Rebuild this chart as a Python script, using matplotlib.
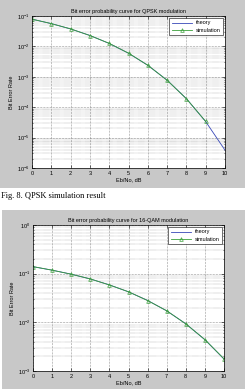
import matplotlib
matplotlib.use("Agg")
import matplotlib.pyplot as plt
from matplotlib.patches import Rectangle

# Eb/No axis, dB
ebno = [0, 1, 2, 3, 4, 5, 6, 7, 8, 9, 10]

# QPSK curves
qpsk_theory = [0.0786, 0.0563, 0.0375, 0.0229, 0.0125, 0.00595, 0.00239,
               0.000773, 0.000191, 3.36e-5, 3.87e-6]
qpsk_sim_x = [0, 1, 2, 3, 4, 5, 6, 7, 8, 9]
qpsk_sim = [0.0788, 0.0561, 0.0377, 0.0228, 0.0126, 0.00600, 0.00240,
            0.000770, 0.000190, 3.4e-5]

# 16-QAM curves
qam_theory = [0.139, 0.118, 0.0977, 0.0778, 0.0588, 0.0423, 0.0282,
              0.0172, 0.00934, 0.00439, 0.00176]
qam_sim = [0.140, 0.118, 0.0975, 0.0780, 0.0586, 0.0425, 0.0280,
           0.0173, 0.00930, 0.00442, 0.00178]

W, H = 249, 389
FONT = "Liberation Sans"
FS = 4.0
GRAY = "#c8c8c8"
THEORY_C = "#3848b8"
SIM_C = "#3aa03a"

fig = plt.figure(figsize=(W / 100, H / 100), dpi=100)
fig.patch.set_facecolor("white")


def px_rect(x0, y0, x1, y1):
    # pixel box (top-left origin) -> figure fraction [l, b, w, h]
    return [x0 / W, 1 - y1 / H, (x1 - x0) / W, (y1 - y0) / H]


# gray "figure window" panels, kept behind the axes
for box in [(0, 0, 245, 188), (2, 210, 245, 389)]:
    l, b, w, h = px_rect(*box)
    fig.patches.append(Rectangle((l, b), w, h, transform=fig.transFigure,
                                 facecolor=GRAY, edgecolor="none", zorder=-5))


def setup(ax, title, ylim):
    ax.set_zorder(2)
    ax.set_yscale("log")
    ax.set_xlim(0, 10)
    ax.set_ylim(*ylim)
    ax.set_xticks(range(11))
    ax.set_title(title, fontsize=FS, family=FONT, pad=2.5)
    ax.set_xlabel("Eb/No, dB", fontsize=FS, family=FONT, labelpad=1.5)
    ax.set_ylabel("Bit Error Rate", fontsize=FS, family=FONT, labelpad=2)
    ax.tick_params(which="both", direction="in", top=True, right=True,
                   labelsize=FS, width=0.4, pad=1.8)
    ax.tick_params(which="major", length=2)
    ax.tick_params(which="minor", length=1)
    for lab in ax.get_xticklabels() + ax.get_yticklabels():
        lab.set_family(FONT)
    ax.grid(True, which="major", linestyle=":", color="#404040", lw=0.4)
    ax.grid(True, which="minor", axis="y", linestyle=":", color="#505050", lw=0.3)
    for sp in ax.spines.values():
        sp.set_linewidth(0.5)
    leg = ax.legend(loc="upper right", fancybox=False,
                    framealpha=1, edgecolor="k", handlelength=3.6,
                    borderpad=0.45, labelspacing=0.45, handletextpad=0.7,
                    borderaxespad=0.35, prop={"family": FONT, "size": FS})
    leg.get_frame().set_linewidth(0.4)


ax1 = fig.add_axes(px_rect(32, 16, 225, 168))
ax1.plot(ebno, qpsk_theory, color=THEORY_C, lw=0.6, label="theory")
ax1.plot(qpsk_sim_x, qpsk_sim, color=SIM_C, lw=0.6, marker="^", ms=2.6,
         mfc="none", mew=0.5, label="simulation")
setup(ax1, "Bit error probability curve for QPSK modulation", (1e-6, 1e-1))

ax2 = fig.add_axes(px_rect(33, 225, 224, 371))
ax2.plot(ebno, qam_theory, color=THEORY_C, lw=0.6, label="theory")
ax2.plot(ebno, qam_sim, color=SIM_C, lw=0.6, marker="^", ms=2.6,
         mfc="none", mew=0.5, label="simulation")
setup(ax2, "Bit error probability curve for 16-QAM modulation", (1e-3, 1e0))

fig.text(1 / W, 1 - 196 / H, "Fig. 8. QPSK simulation result",
         fontsize=6.0, family="Liberation Serif", va="center", ha="left")

fig.savefig("out.png", dpi=100)
